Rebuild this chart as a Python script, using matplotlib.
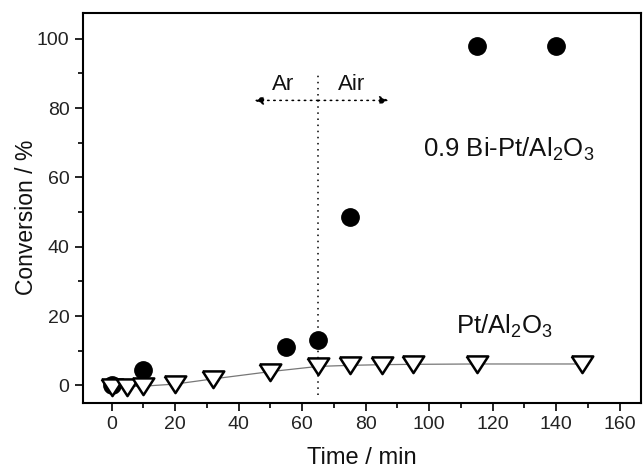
import matplotlib
matplotlib.use("Agg")
import matplotlib.pyplot as plt
from matplotlib.ticker import MultipleLocator

plt.rcParams['font.family'] = ['Liberation Sans', 'DejaVu Sans']
plt.rcParams['mathtext.fontset'] = 'custom'
plt.rcParams['mathtext.rm'] = 'Liberation Sans'
plt.rcParams['mathtext.it'] = 'Liberation Sans'

# Bi-Pt/Al2O3 (filled circles)
bipt_time = [0, 10, 55, 65, 75, 115, 140]
bipt_conv = [0, 4.5, 11.2, 13.1, 48.6, 98, 98]

# Pt/Al2O3 (open triangles)
pt_time = [0, 5, 10, 20, 32, 50, 65, 75, 85, 95, 115, 148]
pt_conv = [-0.3, -0.3, -0.2, 0.4, 1.9, 4.0, 5.5, 5.8, 6.0, 6.1, 6.2, 6.2]

switch_time = 65

fig = plt.figure(figsize=(6.43, 4.73), dpi=100)
ax = fig.add_axes([0.1285, 0.148, 0.868, 0.8245])

ax.plot(pt_time, pt_conv, '-', color='#777777', lw=0.9, zorder=2)
ax.plot(bipt_time, bipt_conv, 'o', color='black', ms=12.5, zorder=3)
tri = [(-1, 0.75), (1, 0.75), (0, -0.8), (-1, 0.75)]
ax.plot(pt_time, pt_conv, linestyle='none', marker=tri, ms=15.5,
        mfc='white', mec='black', mew=1.8, zorder=4)

# switch line
ax.plot([switch_time, switch_time], [-2.7, 90.2], ls=(0, (1, 3)), color='black', lw=1.1, zorder=1)
for xend in (45, 87.2):
    ax.annotate('', xy=(xend, 82.2), xytext=(switch_time, 82.2),
                arrowprops=dict(arrowstyle='-|>', ls=(0, (1, 3)), color='black', lw=1.1,
                                mutation_scale=13, shrinkA=0, shrinkB=0))
ax.text(54, 85.3, 'Ar', fontsize=16, ha='center', va='baseline', color='#111111')
ax.text(75.5, 85.3, 'Air', fontsize=16, ha='center', va='baseline', color='#111111')

ax.text(98, 66, r'0.9 Bi-Pt/Al$_2$O$_3$', fontsize=18.5, ha='left', va='baseline', color='#111111')
ax.text(108.5, 15, r'Pt/Al$_2$O$_3$', fontsize=18.5, ha='left', va='baseline', color='#111111')

ax.set_xlim(-9.1, 166.6)
ax.set_ylim(-5.05, 107.4)
ax.xaxis.set_major_locator(MultipleLocator(20))
ax.xaxis.set_minor_locator(MultipleLocator(10))
ax.yaxis.set_major_locator(MultipleLocator(20))
ax.yaxis.set_minor_locator(MultipleLocator(10))
ax.tick_params(which='both', direction='out', top=False, right=False, labelsize=14,
               width=1.2, labelcolor='#222222')
ax.tick_params(which='major', length=6)
ax.tick_params(which='minor', length=3.5)
for s in ax.spines.values():
    s.set_linewidth(1.5)

ax.set_xlabel('Time / min', fontsize=17, labelpad=10, color='#111111')
ax.set_ylabel('Conversion / %', fontsize=16.5, color='#111111')
ax.yaxis.set_label_coords(-0.080, 0.477)

fig.savefig('out.png', dpi=100)
